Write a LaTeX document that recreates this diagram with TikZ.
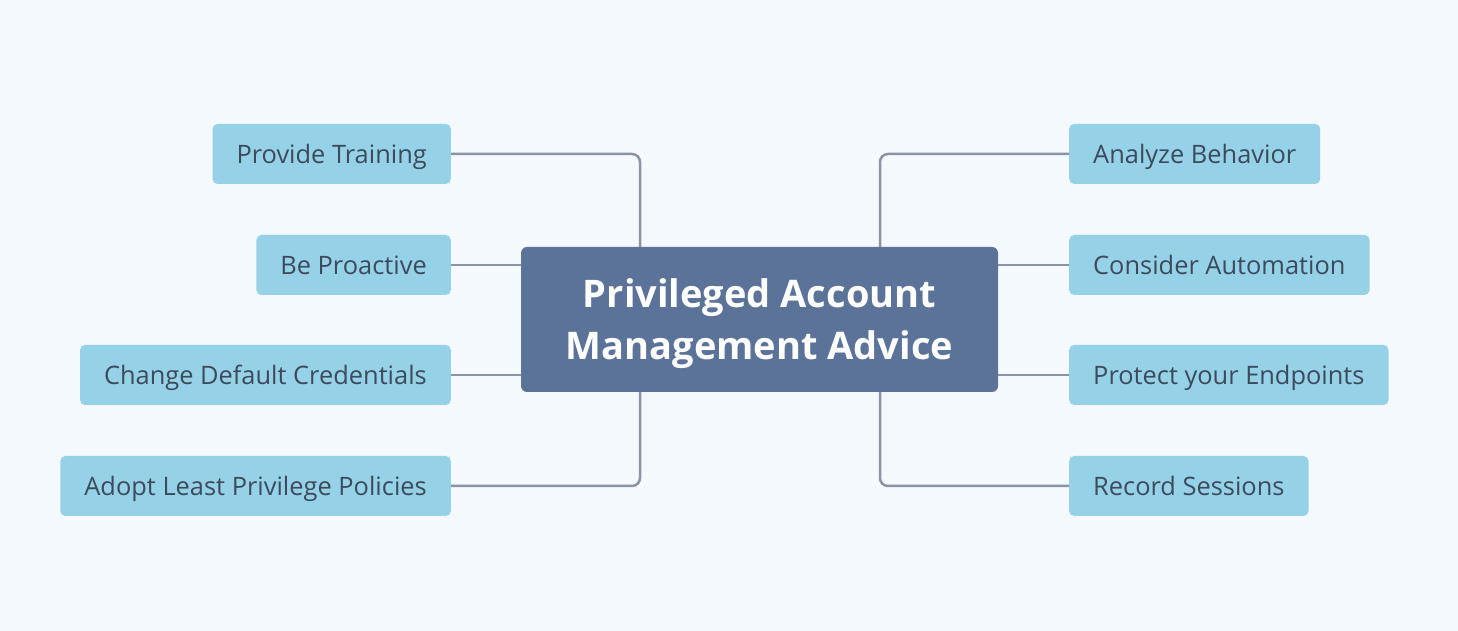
\documentclass[tikz,border=0pt]{standalone}
\usepackage{fontspec}
\setmainfont{Open Sans}
\definecolor{bgc}{HTML}{F4F9FE}
\definecolor{leaf}{HTML}{95D2E7}
\definecolor{leaftext}{HTML}{3D4A5C}
\definecolor{hub}{HTML}{5B7299}
\definecolor{wire}{HTML}{8B93A6}
\begin{document}
\begin{tikzpicture}[x=1pt,y=1pt,
  leafbox/.style={fill=leaf, rounded corners=5pt, minimum height=60pt, inner xsep=24pt, inner ysep=0pt,
    text height=22pt, text depth=2pt,
    font=\fontsize{25.4}{30}\selectfont, text=leaftext},
  hubbox/.style={fill=hub, rounded corners=6pt, minimum width=477pt, minimum height=145pt},
  hubtext/.style={font=\fontsize{38}{52}\selectfont\bfseries, text=white, align=center, inner sep=0pt},
  link/.style={draw=wire, line width=2.5pt, rounded corners=8pt}]
\fill[bgc] (0,0) rectangle (1458,631);
\useasboundingbox (0,0) rectangle (1458,631);
\node[hubbox] (hub) at (759.5,311.5) {};
\node[hubtext] (hubt) at ([yshift=-4pt]hub.center) {Privileged Account\\Management Advice};
\node[leafbox, anchor=east] (pt) at (451,477) {Provide Training};
\node[leafbox, anchor=east] (bp) at (451,366) {Be Proactive};
\node[leafbox, anchor=east] (cd) at (451,256) {Change Default Credentials};
\node[leafbox, anchor=east] (al) at (451,145) {Adopt Least Privilege Policies};
\node[leafbox, anchor=west] (ab) at (1069,477) {Analyze Behavior};
\node[leafbox, anchor=west] (ca) at (1069,366) {Consider Automation};
\node[leafbox, anchor=west] (pe) at (1069,256) {Protect your Endpoints};
\node[leafbox, anchor=west] (rs) at (1069,145) {Record Sessions};
\draw[link] (pt.east) -| (640,0 |- hub.north);
\draw[link] (al.east) -| (640,0 |- hub.south);
\draw[link] (ab.west) -| (880,0 |- hub.north);
\draw[link] (rs.west) -| (880,0 |- hub.south);
\draw[link] (bp.east) -- (bp.east -| hub.west);
\draw[link] (cd.east) -- (cd.east -| hub.west);
\draw[link] (ca.west) -- (ca.west -| hub.east);
\draw[link] (pe.west) -- (pe.west -| hub.east);
\end{tikzpicture}
\end{document}
